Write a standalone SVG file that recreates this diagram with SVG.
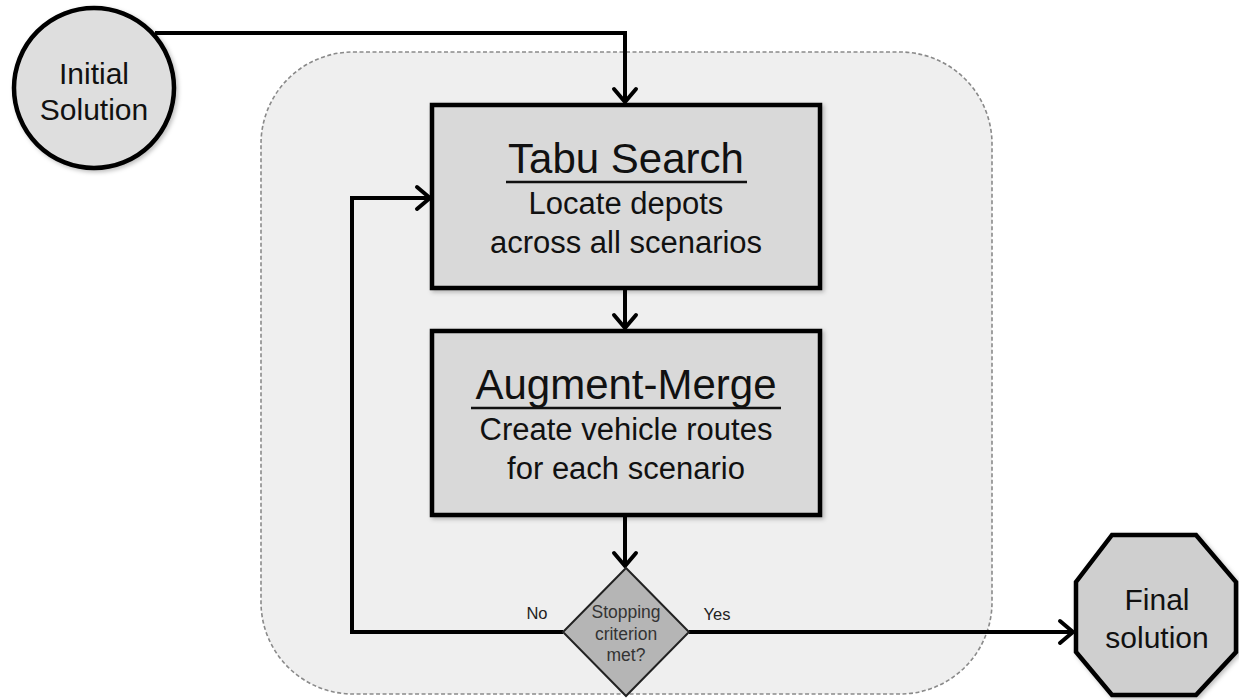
<svg xmlns="http://www.w3.org/2000/svg" width="1239" height="700" viewBox="0 0 1239 700">
<defs>
<marker id="arr" markerUnits="userSpaceOnUse" markerWidth="20" markerHeight="28" viewBox="0 0 20 28" refX="16" refY="14" orient="auto">
<path d="M3,3 L16,14 L3,25" fill="none" stroke="#000" stroke-width="4" stroke-linecap="round" stroke-linejoin="round"/>
</marker>
<filter id="sh" x="-10%" y="-10%" width="125%" height="125%">
<feDropShadow dx="2" dy="2" stdDeviation="2" flood-color="#000" flood-opacity="0.25"/>
</filter>
</defs>
<style>
text{font-family:'Liberation Sans',Arial,Helvetica,sans-serif;fill:#111;text-anchor:middle}
.box{fill:#d9d9d9;stroke:#000;stroke-width:4.5}
.con{fill:none;stroke:#000;stroke-width:4}
.big{font-size:30px}
.title{font-size:42px}
.sub{font-size:31px}
.small{font-size:17.5px;fill:#333}
.lab{font-size:16.5px;fill:#222}
</style>
<rect width="1239" height="700" fill="#fff"/>
<g id="container">
<rect x="261" y="52" width="731" height="642" rx="92" ry="92" fill="#efefef" stroke="#8a8a8a" stroke-width="1.6" stroke-dasharray="4 2.5"/>
</g>
<g id="connectors">
<path class="con" d="M155,33 L625,33 L625,102" marker-end="url(#arr)"/>
<path class="con" d="M625,288 L625,328" marker-end="url(#arr)"/>
<path class="con" d="M625,515 L625,566" marker-end="url(#arr)"/>
<path class="con" d="M563,632 L352,632 L352,198 L430,198" marker-end="url(#arr)"/>
<path class="con" d="M689,632 L1073,632" marker-end="url(#arr)"/>
<text class="lab" font-family="Liberation Sans, Arial, sans-serif" x="537" y="619">No</text>
<text class="lab" font-family="Liberation Sans, Arial, sans-serif" x="717" y="620">Yes</text>
</g>
<g id="initial" font-family="Liberation Sans, Arial, sans-serif">
<circle cx="94" cy="88" r="80" fill="#dedede" stroke="#000" stroke-width="4.5" filter="url(#sh)"/>
<text class="big" x="94" y="84">Initial</text>
<text class="big" x="94" y="120">Solution</text>
</g>
<g id="tabu" font-family="Liberation Sans, Arial, sans-serif">
<rect class="box" x="432" y="105" width="388" height="183" filter="url(#sh)"/>
<text class="title" x="626" y="173">Tabu Search</text>
<line x1="506" y1="182" x2="747" y2="182" stroke="#111" stroke-width="2.5"/>
<text class="sub" x="626" y="214">Locate depots</text>
<text class="sub" x="626" y="253">across all scenarios</text>
</g>
<g id="augment" font-family="Liberation Sans, Arial, sans-serif">
<rect class="box" x="432" y="331" width="388" height="184" filter="url(#sh)"/>
<text class="title" x="626" y="399">Augment-Merge</text>
<line x1="471" y1="408" x2="781" y2="408" stroke="#111" stroke-width="2.5"/>
<text class="sub" x="626" y="440">Create vehicle routes</text>
<text class="sub" x="626" y="479">for each scenario</text>
</g>
<g id="decision" font-family="Liberation Sans, Arial, sans-serif">
<polygon points="626,568 689,632 626,696 563,632" fill="#b5b5b5" stroke="#222" stroke-width="2"/>
<text class="small" x="626" y="618">Stopping</text>
<text class="small" x="626" y="640">criterion</text>
<text class="small" x="626" y="661">met?</text>
</g>
<g id="final" font-family="Liberation Sans, Arial, sans-serif">
<polygon points="1112,535 1196,535 1236,582 1236,652 1196,695 1112,695 1076,652 1076,582" fill="#cfcfcf" stroke="#000" stroke-width="4.5" filter="url(#sh)"/>
<text class="big" x="1157" y="610">Final</text>
<text class="big" x="1157" y="648">solution</text>
</g>
</svg>
